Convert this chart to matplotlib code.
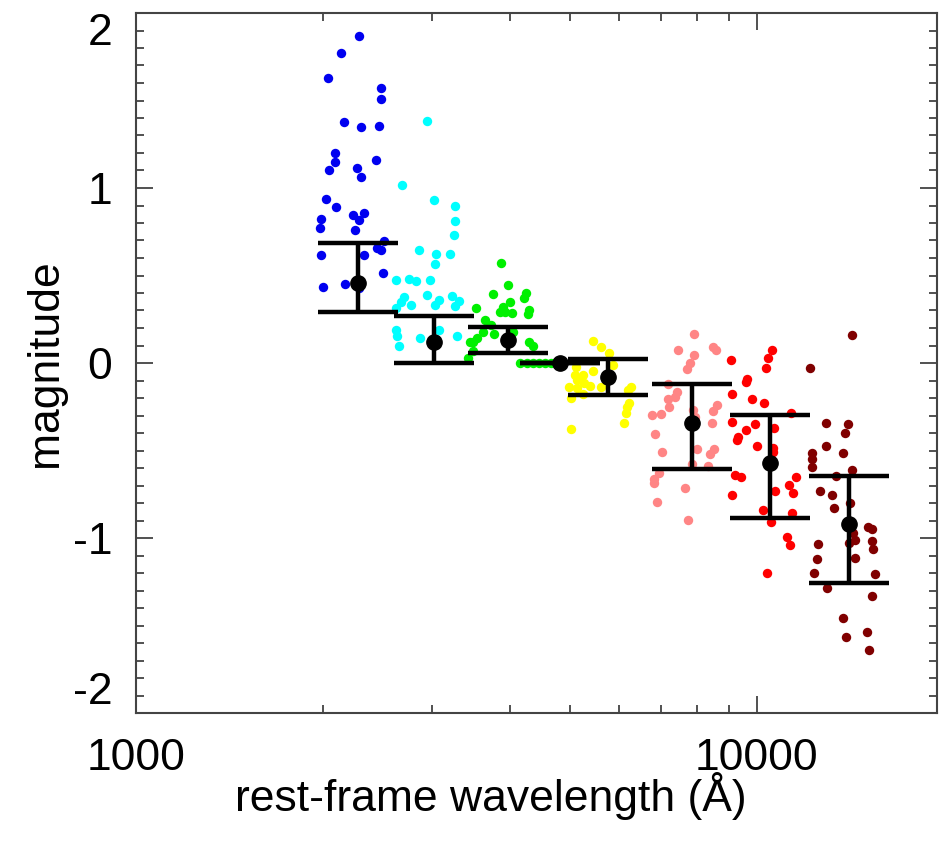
import matplotlib
matplotlib.use("Agg")
import matplotlib.pyplot as plt
from matplotlib.ticker import MultipleLocator, LogLocator, NullFormatter

plt.rcParams['font.family'] = ['Liberation Sans', 'DejaVu Sans']

# ---------------- data ----------------
blue_wave = [2290, 2142, 2036, 2480, 2480, 2163, 2303, 2459, 2094, 2089, 2048, 2269, 2303, 2432,
             2023, 2099, 2233, 2329, 2290, 1988, 1979, 2249, 2511, 2447, 2477, 1988, 2329, 2496,
             2003, 2173, 2290]
blue_mag = [1.87, 1.77, 1.63, 1.57, 1.51, 1.375, 1.35, 1.355, 1.20, 1.15, 1.10, 1.115, 1.065, 1.16,
            0.935, 0.89, 0.845, 0.86, 0.815, 0.825, 0.77, 0.76, 0.70, 0.655, 0.645, 0.62, 0.62, 0.515,
            0.435, 0.45, 0.43]

cyan_wave = [2944, 2685, 3022, 3270, 3270, 3246, 2852, 3044, 3203, 3034, 2626, 2755, 2827, 2978,
             2704, 2669, 2769, 2944, 3075, 3228, 3313, 3270, 3034, 2623, 2623, 2629, 2649, 2869,
             3075, 3292]
cyan_mag = [1.385, 1.02, 0.93, 0.90, 0.81, 0.73, 0.647, 0.625, 0.622, 0.564, 0.474, 0.48, 0.47, 0.473,
            0.38, 0.346, 0.333, 0.387, 0.36, 0.383, 0.353, 0.325, 0.329, 0.317, 0.19, 0.156, 0.10, 0.141,
            0.189, 0.156]

green_wave = [3870, 3976, 3754, 4246, 4216, 3527, 3895, 4002, 3928, 4027, 3856, 4298, 4283, 3648,
              3726, 3624, 3772, 4042, 3536, 3492, 3450, 4298, 4353, 3484, 3428,
              4160, 4260, 4360, 4460, 4560, 4660]
green_mag = [0.573, 0.446, 0.394, 0.398, 0.37, 0.313, 0.322, 0.347, 0.293, 0.284, 0.293, 0.303, 0.28, 0.246,
             0.217, 0.175, 0.167, 0.175, 0.141, 0.122, 0.118, 0.118, 0.097, 0.069, 0.027,
             0.0, 0.0, 0.0, 0.0, 0.0, 0.0]

yellow_wave = [5449, 5607, 5783, 5856, 5120, 5437, 5092, 5251, 5135, 5265, 5383, 4989, 5601, 5135,
               5251, 5011, 6261, 6206, 6229, 6183, 6152, 6106, 5011]
yellow_mag = [0.127, 0.093, 0.055, -0.011, -0.023, -0.044, -0.069, -0.069, -0.097, -0.116, -0.130, -0.135,
              -0.135, -0.145, -0.179, -0.202, -0.135, -0.154, -0.230, -0.25, -0.287, -0.345, -0.379]

pink_wave = [7917, 7469, 7917, 8504, 8581, 7800, 7706, 7180, 7424, 7197, 7377, 7223, 6783, 6996,
             7896, 7946, 8613, 8504, 8453, 6850, 7038, 7996, 8527, 8401, 7867, 8349, 6953, 6825,
             6825, 7656, 6894, 7752]
pink_mag = [0.164, 0.074, 0.046, 0.093, 0.074, 0.002, -0.036, -0.122, -0.164, -0.206, -0.196, -0.253,
            -0.297, -0.293, -0.269, -0.307, -0.24, -0.274, -0.345, -0.406, -0.507, -0.491, -0.493,
            -0.522, -0.577, -0.589, -0.627, -0.665, -0.687, -0.716, -0.794, -0.897]

red_wave = [10561, 10428, 10327, 9081, 9625, 9600, 9133, 9827, 10263, 11344, 9133, 9926, 9600, 10664,
            9331, 9275, 9989, 10622, 10622, 9218, 9414, 11543, 11246, 11441, 10690, 9133, 10235,
            11386, 10520, 11163, 11300, 10366]
red_mag = [0.074, 0.027, -0.030, 0.017, -0.093, -0.110, -0.177, -0.206, -0.227, -0.284, -0.339, -0.350,
           -0.383, -0.370, -0.425, -0.44, -0.473, -0.484, -0.507, -0.64, -0.65, -0.653, -0.699, -0.745,
           -0.73, -0.753, -0.84, -0.857, -0.91, -0.993, -1.042, -1.2]

dkred_wave = [14207, 12170, 12900, 13996, 13858, 12900, 13772, 12274, 12274, 12249, 14207, 13404,
              12630, 13207, 14119, 13320, 15111, 15301, 14293, 14383, 14080, 15336, 12549, 15392,
              14383, 12477, 12362, 15488, 12948, 15318, 13772, 13909, 15021, 15167]
dkred_mag = [0.16, -0.03, -0.345, -0.349, -0.398, -0.474, -0.513, -0.516, -0.55, -0.593, -0.611, -0.644,
             -0.73, -0.754, -0.802, -0.827, -0.939, -0.95, -0.973, -1.011, -1.027, -1.015, -1.034,
             -1.065, -1.113, -1.122, -1.198, -1.206, -1.284, -1.33, -1.455, -1.567, -1.539, -1.64]

# binned means with error ranges
bin_wave = [2280, 3015, 3968, 4820, 5760, 7859, 10494, 14067]
bin_mean = [0.456, 0.118, 0.134, 0.0, -0.081, -0.343, -0.571, -0.92]
bin_upper = [0.684, 0.271, 0.208, 0.0, 0.023, -0.12, -0.297, -0.646]
bin_lower = [0.290, -0.001, 0.056, 0.0, -0.183, -0.606, -0.886, -1.257]

groups = [
    (blue_wave, blue_mag, '#0000F0'),
    (cyan_wave, cyan_mag, '#00FFFF'),
    (green_wave, green_mag, '#00F000'),
    (yellow_wave, yellow_mag, '#FFFF00'),
    (pink_wave, pink_mag, '#FF8585'),
    (red_wave, red_mag, '#FF0000'),
    (dkred_wave, dkred_mag, '#800000'),
]

# ---------------- figure ----------------
fig = plt.figure(figsize=(9.4, 8.42), dpi=100)
ax = fig.add_axes([136 / 940, 1 - 713 / 842, (937 - 136) / 940, 700 / 842])
ax.set_xscale('log')
ax.set_xlim(1000, 19500)
ax.set_ylim(-2, 2)

for w, m, c in groups:
    ax.scatter(w, m, s=46, color=c, linewidths=0, zorder=2)

err_lo = [m - l for m, l in zip(bin_mean, bin_lower)]
err_hi = [u - m for m, u in zip(bin_mean, bin_upper)]
ax.errorbar(bin_wave, bin_mean, yerr=[err_lo, err_hi], fmt='o', color='black',
            markersize=11, elinewidth=3.2, capsize=29, capthick=3.2, zorder=3)

# ticks
ax.set_xticks([1000, 10000])
ax.set_xticklabels(['1000', '10000'])
ax.xaxis.set_minor_locator(LogLocator(base=10, subs=range(2, 10)))
ax.xaxis.set_minor_formatter(NullFormatter())
ax.set_yticks([-2, -1, 0, 1, 2])
ax.set_yticklabels(['-2', '-1', '0', '1', '2'])
ax.yaxis.set_minor_locator(MultipleLocator(0.1))

ax.tick_params(which='both', direction='in', top=True, right=True, color='#333333', width=1.2)
ax.tick_params(which='major', length=12, labelsize=32)
ax.tick_params(axis='y', which='major', pad=17)
ax.tick_params(axis='x', which='major', pad=18)
ax.tick_params(which='minor', length=6)

labs = ax.get_yticklabels()
labs[0].set_verticalalignment('bottom')
labs[-1].set_verticalalignment('top')

for s in ax.spines.values():
    s.set_color('#444444')
    s.set_linewidth(1.5)

ax.set_xlabel('rest-frame wavelength (Å)', fontsize=32)
ax.xaxis.set_label_coords((491 - 136) / 801, -0.085)
ax.set_ylabel('magnitude', fontsize=32)
ax.yaxis.set_label_coords(-0.088, 0.5)

fig.savefig('out.png', dpi=100)
